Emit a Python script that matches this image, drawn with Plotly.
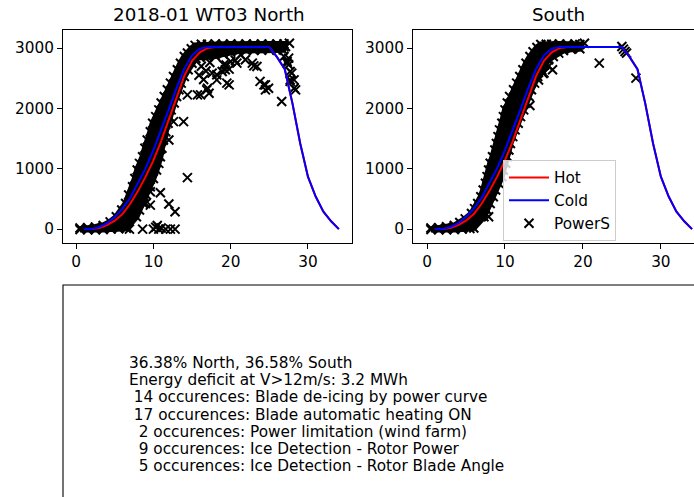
import plotly.graph_objects as go

# ---------------- data ----------------
power_ws = [1, 2, 3, 4, 5, 6, 7, 8, 9, 10, 11, 12, 13, 14, 15, 16, 17, 18, 19, 20,
            21, 22, 23, 24, 25, 26, 27, 28, 29, 30, 31, 32, 33, 34]
cold_kw = [0, 0, 35, 100, 200, 340, 520, 760, 1010, 1310, 1640, 1990, 2340, 2660, 2880, 2990, 3020, 3020, 3020, 3020,
           3020, 3020, 3020, 3020, 3020, 2850, 2650, 2080, 1420, 870, 540, 290, 130, 0]
hot_kw = [0, 0, 20, 65, 140, 250, 420, 630, 870, 1140, 1460, 1820, 2200, 2540, 2790, 2930, 3000, 3020, 3020, 3020,
          3020, 3020, 3020, 3020, 3020, 2850, 2650, 2080, 1420, 870, 540, 290, 130, 0]

# outline of the dense cloud of PowerS points (North)
north_band = [
    (0.5, -5), (1.5, -10), (2.5, -10), (3.5, -5), (4.5, 0), (5.5, 5), (6.5, 15),
    (7.8, 205), (8.2, 316), (8.7, 426), (9.1, 565), (9.6, 703), (10.0, 840), (10.4, 980), (10.7, 1090),
    (10.9, 1200), (11.1, 1340), (11.3, 1478), (11.6, 1615), (11.9, 1755), (12.1, 1865), (12.3, 1976),
    (12.7, 2090), (13.0, 2197), (13.3, 2310), (13.6, 2419), (14.0, 2530), (14.5, 2640), (15.0, 2750), (15.5, 2830),
    (16.0, 2850), (17.0, 2850), (18.0, 2870), (19.0, 2900), (20.0, 2930), (21.0, 2950), (22.0, 2960),
    (23.0, 2965), (24.0, 2965), (25.0, 2970), (26.0, 2965), (26.8, 2970),
    (26.9, 3020), (26.9, 3070),
    (26.0, 3070), (25.0, 3065), (24.0, 3070), (23.0, 3065), (22.0, 3070), (21.0, 3065), (20.0, 3070),
    (19.0, 3065), (18.0, 3070), (17.0, 3065), (16.2, 3065), (15.4, 3045),
    (14.9, 2990), (14.4, 2920), (14.0, 2861), (13.5, 2750), (13.1, 2640), (12.6, 2530), (12.2, 2419),
    (11.8, 2310), (11.4, 2197), (11.0, 2090), (10.7, 1976), (10.3, 1865), (9.9, 1755), (9.6, 1615),
    (9.2, 1478), (8.9, 1340), (8.6, 1200), (8.2, 1090), (7.9, 980), (7.6, 840), (7.3, 703), (6.8, 565),
    (6.4, 426), (5.9, 316), (5.2, 205), (4.4, 120), (3.5, 60), (2.5, 35), (1.5, 25), (0.5, 20),
]
north_out = [
    (6.9, 0), (8.6, 0), (10.0, 0), (10.3, 30), (10.5, 60), (10.7, 0), (11.0, 20), (11.6, 0), (12.2, 0), (12.8, 0),
    (8.8, 593), (9.6, 620), (9.0, 426), (9.6, 398), (10.9, 603), (12.0, 415), (12.8, 288), (14.4, 853),
    (12.6, 1782), (13.9, 1782), (12.0, 1478),
    (14.4, 2225), (15.7, 2225), (17.2, 2253), (17.0, 2336), (16.1, 2225), (16.9, 2308),
    (18.2, 2557), (18.2, 2474), (19.3, 2640), (19.5, 2419), (19.1, 2723), (19.8, 2391),
    (20.8, 2751), (21.9, 2806), (22.8, 2751), (23.0, 2706), (23.4, 2695),
    (23.8, 2449), (24.3, 2391), (24.5, 2391), (24.9, 2336), (24.5, 2308),
    (26.6, 2114), (27.3, 2751), (27.7, 2612), (27.7, 2474), (28.2, 2336), (28.4, 2308), (27.5, 2834),
    (27.9, 2585), (28.2, 2474), (27.7, 2449), (27.5, 2723), (27.3, 2778), (26.9, 2862), (27.1, 3027), (27.6, 3080),
    (16.2, 2700), (16.8, 2620), (17.3, 2760), (17.6, 2585), (18.9, 2612), (19.4, 2720), (19.8, 2651),
    (20.0, 2778), (20.6, 2800), (21.3, 2889), (15.9, 2550), (16.5, 2480),
]

# outline of the dense cloud of PowerS points (South)
south_band = [
    (0.5, -5), (1.5, -10), (2.5, -10), (3.5, -5), (4.5, 0), (5.5, 10), (6.0, 20),
    (7.3, 205), (7.7, 316), (8.1, 426), (8.5, 537), (8.8, 648), (9.2, 760), (9.6, 870), (9.8, 980),
    (10.1, 1091), (10.3, 1200), (10.5, 1312), (10.7, 1420), (11.0, 1533), (11.3, 1645), (11.7, 1755),
    (12.0, 1865), (12.4, 1976), (12.7, 2090), (13.1, 2197), (13.4, 2310), (13.8, 2419), (14.2, 2530),
    (14.7, 2640), (15.1, 2720), (15.6, 2806), (16.2, 2860), (16.9, 2917),
    (17.5, 2960), (18.5, 2980), (19.6, 2990),
    (19.6, 3060),
    (19.0, 3070), (18.0, 3065), (17.0, 3070), (16.0, 3065), (15.3, 3065), (14.6, 3060),
    (14.1, 3010), (13.6, 2940), (13.2, 2861), (12.7, 2750), (12.3, 2640), (11.9, 2530), (11.5, 2419),
    (11.1, 2310), (10.6, 2197), (10.3, 2090), (10.0, 1976), (9.8, 1865), (9.6, 1755), (9.3, 1645),
    (9.1, 1533), (8.9, 1420), (8.7, 1312), (8.4, 1200), (8.1, 1091), (7.9, 980), (7.7, 870), (7.5, 760),
    (7.2, 648), (6.9, 537), (6.5, 426), (6.1, 340), (5.7, 260), (4.9, 170), (4.2, 110), (3.5, 60),
    (2.5, 40), (1.5, 25), (0.5, 20),
]
south_out = [
    (7.9, 205), (22.1, 2751), (25.0, 3027), (25.2, 2983), (25.4, 2944), (25.6, 2917), (26.8, 2502),
    (15.6, 2700), (16.1, 2640), (15.0, 2590), (14.9, 2580), (14.3, 2470), (13.2, 2050), (20.2, 3080),
]

titles = ["2018-01 WT03 North", "South"]
x_ticks = [0, 10, 20, 30]
y_ticks = [0, 1000, 2000, 3000]

info_lines = [
    "36.38% North, 36.58% South",
    "Energy deficit at V>12m/s: 3.2 MWh",
    " 14 occurences: Blade de-icing by power curve",
    " 17 occurences: Blade automatic heating ON",
    "  2 occurences: Power limitation (wind farm)",
    "  9 occurences: Ice Detection - Rotor Power",
    "  5 occurences: Ice Detection - Rotor Blade Angle",
]

# ---------------- figure ----------------
W, H = 694, 497
FONT = "DejaVu Sans"
FS = 15.3
TFS = 18.3


def px(x):
    return x / W


def py(y):
    return 1 - y / H


mk = dict(symbol="x-thin", size=9, color="black", line=dict(width=2, color="black"))

fig = go.Figure()

panels = [("x", "y", north_band, north_out), ("x2", "y2", south_band, south_out)]
for i, (xa, ya, band, outl) in enumerate(panels):
    bx = [p[0] for p in band]
    by = [p[1] for p in band]
    # solid core of the dense point cloud
    fig.add_trace(go.Scatter(x=bx + [bx[0]], y=by + [by[0]], mode="lines", fill="toself",
                             fillcolor="black", line=dict(color="black", width=6),
                             xaxis=xa, yaxis=ya, showlegend=False, hoverinfo="skip"))
    # edge points of the cloud
    fig.add_trace(go.Scatter(x=bx, y=by, mode="markers", marker=mk,
                             xaxis=xa, yaxis=ya, showlegend=False, hoverinfo="skip"))
    fig.add_trace(go.Scatter(x=[p[0] for p in outl], y=[p[1] for p in outl], mode="markers",
                             marker=mk, name="PowerS", xaxis=xa, yaxis=ya,
                             showlegend=(i == 1), legendrank=3))
    fig.add_trace(go.Scatter(x=power_ws, y=hot_kw, mode="lines", name="Hot",
                             line=dict(color="#ff0000", width=2), xaxis=xa, yaxis=ya,
                             showlegend=(i == 1), legendrank=1))
    fig.add_trace(go.Scatter(x=power_ws, y=cold_kw, mode="lines", name="Cold",
                             line=dict(color="#0000ff", width=2), xaxis=xa, yaxis=ya,
                             showlegend=(i == 1), legendrank=2))

axis_common = dict(showgrid=False, zeroline=False, showline=True, linecolor="black", linewidth=1,
                   mirror=True, ticks="outside", ticklen=5, tickwidth=1, tickcolor="black",
                   automargin=False,
                   tickfont=dict(family=FONT, size=FS, color="black"))

y_dom = [py(243), py(30)]
fig.update_layout(
    template="none",
    width=W, height=H,
    margin=dict(l=0, r=0, t=0, b=0),
    paper_bgcolor="white", plot_bgcolor="white",
    font=dict(family=FONT, size=FS, color="black"),
    xaxis=dict(domain=[px(63), px(352)], range=[-1.7, 35.7], tickvals=x_ticks, anchor="y",
               **axis_common),
    yaxis=dict(domain=y_dom, range=[-230, 3300], tickvals=y_ticks, anchor="x",
               **axis_common),
    xaxis2=dict(domain=[px(413), 1.0], range=[-1.8, 34.25], tickvals=x_ticks, anchor="y2",
                **axis_common),
    yaxis2=dict(domain=y_dom, range=[-230, 3300], tickvals=y_ticks, anchor="x2",
                **axis_common),
    legend=dict(x=px(503), y=py(160), xanchor="left", yanchor="top",
                bgcolor="rgba(255,255,255,0.8)", bordercolor="#cccccc", borderwidth=1,
                font=dict(family=FONT, size=FS, color="black"), itemwidth=40),
    showlegend=True,
)

# subplot titles
fig.add_annotation(text=titles[0], x=px(209), y=py(15), xref="paper", yref="paper",
                   showarrow=False, xanchor="center", yanchor="middle",
                   font=dict(family=FONT, size=TFS, color="black"))
fig.add_annotation(text=titles[1], x=px(558), y=py(15), xref="paper", yref="paper",
                   showarrow=False, xanchor="center", yanchor="middle",
                   font=dict(family=FONT, size=TFS, color="black"))

# text box
fig.add_shape(type="rect", xref="paper", yref="paper", x0=px(63), x1=1.1, y0=-0.1, y1=py(285),
              line=dict(color="black", width=1.1), fillcolor="rgba(0,0,0,0)", layer="below")
for i, line in enumerate(info_lines):
    fig.add_annotation(text=line.replace(" ", "\u00a0"), x=px(127), y=py(363 + 17.2 * i),
                       xref="paper", yref="paper", showarrow=False, xanchor="left", yanchor="middle",
                       font=dict(family=FONT, size=FS, color="black"))

fig.write_html("out.html")
